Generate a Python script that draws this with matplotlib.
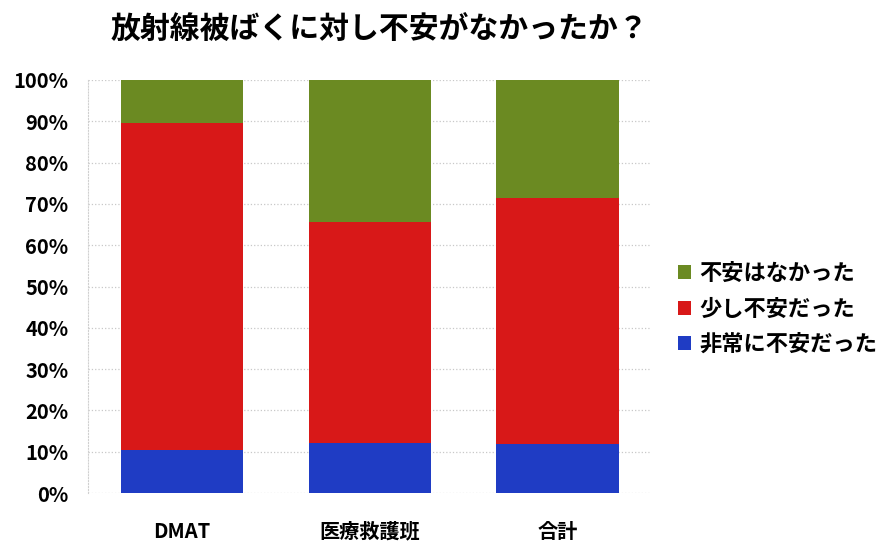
import numpy as np
import matplotlib
matplotlib.use('Agg')
import matplotlib.pyplot as plt
from matplotlib.ticker import PercentFormatter

plt.rcParams['font.family'] = ['Noto Sans CJK JP', 'DejaVu Sans']

categories = ['DMAT', '医療救護班', '合計']
very_anxious = [10.4, 12.1, 11.9]   # 非常に不安だった
little_anxious = [79.2, 53.5, 59.5]  # 少し不安だった
not_anxious = [10.4, 34.4, 28.6]     # 不安はなかった
series_names = ['非常に不安だった', '少し不安だった', '不安はなかった']
colors = ['#1f3cc4', '#d81818', '#6b8a22']

fig = plt.figure(figsize=(8.83, 5.42), dpi=100)
ax = fig.add_axes([0.0997, 0.0904, 0.638, 0.762])

x = np.arange(len(categories))
bottom = np.zeros(len(categories))
handles = []
for vals, name, c in zip([very_anxious, little_anxious, not_anxious], series_names, colors):
    h = ax.bar(x, vals, width=0.65, bottom=bottom, color=c, label=name, zorder=2)
    handles.append(h)
    bottom += np.array(vals)

ax.set_xlim(-0.5, 2.5)
ax.set_ylim(0, 100)
ax.set_yticks(np.arange(0, 101, 10))
ax.yaxis.set_major_formatter(PercentFormatter(decimals=0))
ax.grid(axis='y', color='#c8c8c8', linestyle=':', linewidth=0.9, zorder=0)
for s in ['top', 'right', 'bottom']:
    ax.spines[s].set_visible(False)
ax.spines['left'].set_color('#d0d0d0')
ax.spines['left'].set_linestyle(':')
ax.tick_params(axis='both', length=0)
ax.tick_params(axis='y', pad=14)
ax.tick_params(axis='x', pad=20)
ax.set_xticks(x)
ax.set_xticklabels(categories, fontsize=14.5, fontweight='bold')
for lab in ax.get_yticklabels():
    lab.set_fontsize(14.5)
    lab.set_fontweight('bold')

fig.text(0.43, 0.945, '放射線被ばくに対し不安がなかったか？', ha='center', va='center',
         fontsize=21.5, fontweight='bold')

leg = fig.legend(handles[::-1], series_names[::-1], loc='center left',
                 bbox_to_anchor=(0.745, 0.43), frameon=False,
                 prop={'weight': 'bold', 'size': 16}, handlelength=0.6, handleheight=0.6,
                 handletextpad=0.35, labelspacing=0.55)

fig.savefig('out.png', dpi=100)
